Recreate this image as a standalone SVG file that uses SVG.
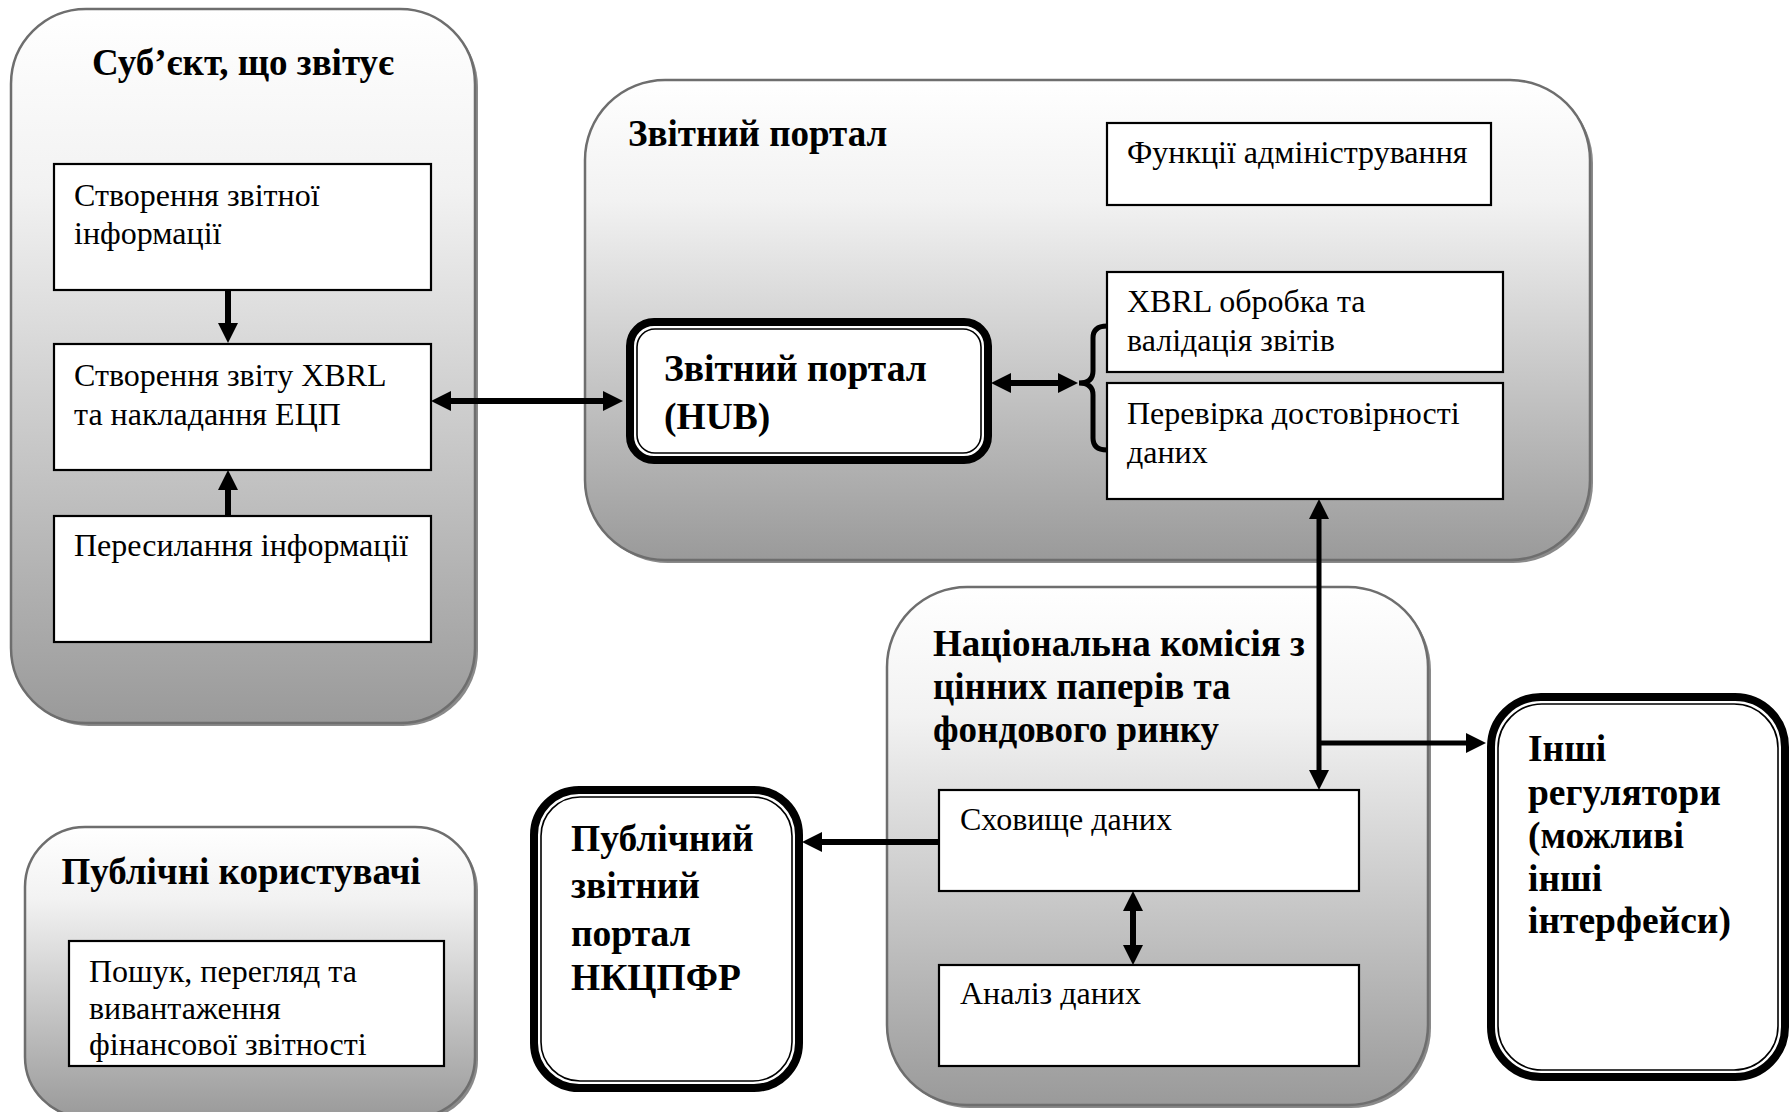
<svg xmlns="http://www.w3.org/2000/svg" width="1791" height="1112" viewBox="0 0 1791 1112">
<style>
.grp{stroke:#6e6e6e;stroke-width:2.5;fill:url(#g)}
.shd{fill:#8a8a8a}
.box{fill:#fff;stroke:#000;stroke-width:2.2}
.t{font-family:"Liberation Serif","Times New Roman",serif;font-size:32px;fill:#000}
.tb{font-family:"Liberation Serif","Times New Roman",serif;font-size:37px;font-weight:bold;fill:#000}
.tbb{font-family:"Liberation Serif","Times New Roman",serif;font-size:37.5px;font-weight:bold;fill:#000}
.dbo{fill:#fff;stroke:#000;stroke-width:8}
.dbi{fill:none;stroke:#000;stroke-width:1.6}
.c{stroke:#000;stroke-width:6;fill:none}
.c2{stroke:#000;stroke-width:5;fill:none}
</style>
<defs>
<linearGradient id="g" x1="0" y1="0" x2="0" y2="1">
<stop offset="0" stop-color="#ffffff"/>
<stop offset="0.25" stop-color="#f2f2f2"/>
<stop offset="1" stop-color="#9a9a9a"/>
</linearGradient>
<marker id="a" viewBox="0 0 20 20" refX="10" refY="10" markerWidth="20" markerHeight="20" markerUnits="userSpaceOnUse" orient="auto-start-reverse">
<path d="M0,0 L20,10 L0,20 z" fill="#000"/>
</marker>
</defs>
<rect width="1791" height="1112" fill="#fff"/>

<g id="subject">
<rect class="shd" x="14" y="12" width="464" height="714" rx="75"/>
<rect class="grp" x="11" y="9" width="464" height="714" rx="75"/>
<text class="tb" x="243" y="75" text-anchor="middle">Суб’єкт, що звітує</text>
</g>
<g id="create-info">
<rect class="box" x="54" y="164" width="377" height="126"/>
<text class="t" x="74" y="206">Створення звітної</text>
<text class="t" x="74" y="244">інформації</text>
</g>
<g id="create-xbrl">
<rect class="box" x="54" y="344" width="377" height="126"/>
<text class="t" x="74" y="386">Створення звіту XBRL</text>
<text class="t" x="74" y="425">та накладання ЕЦП</text>
</g>
<g id="send-info">
<rect class="box" x="54" y="516" width="377" height="126"/>
<text class="t" x="74" y="556">Пересилання інформації</text>
</g>

<g id="portal">
<rect class="shd" x="588" y="83" width="1005" height="480" rx="80"/>
<rect class="grp" x="585" y="80" width="1005" height="480" rx="80"/>
<text class="tb" x="628" y="146">Звітний портал</text>
</g>
<g id="admin">
<rect class="box" x="1107" y="123" width="384" height="82"/>
<text class="t" x="1127" y="163">Функції адміністрування</text>
</g>
<g id="hub">
<rect class="dbo" x="630" y="322" width="358" height="138" rx="24"/>
<rect class="dbi" x="637" y="329" width="344" height="124" rx="18"/>
<text class="tbb" x="664" y="381">Звітний портал</text>
<text class="tbb" x="664" y="429">(HUB)</text>
</g>
<g id="xbrl-proc">
<rect class="box" x="1107" y="272" width="396" height="100"/>
<text class="t" x="1127" y="312">XBRL обробка та</text>
<text class="t" x="1127" y="351">валідація звітів</text>
</g>
<g id="verify">
<rect class="box" x="1107" y="383" width="396" height="116"/>
<text class="t" x="1127" y="424">Перевірка достовірності</text>
<text class="t" x="1127" y="463">даних</text>
</g>

<g id="commission">
<rect class="shd" x="890" y="590" width="541" height="518" rx="80"/>
<rect class="grp" x="887" y="587" width="541" height="518" rx="80"/>
<text class="tb" x="933" y="656">Національна комісія з</text>
<text class="tb" x="933" y="699">цінних паперів та</text>
<text class="tb" x="933" y="742">фондового ринку</text>
</g>
<g id="storage">
<rect class="box" x="939" y="790" width="420" height="101"/>
<text class="t" x="960" y="830">Сховище даних</text>
</g>
<g id="analysis">
<rect class="box" x="939" y="965" width="420" height="101"/>
<text class="t" x="960" y="1004">Аналіз даних</text>
</g>

<g id="public-portal">
<rect class="dbo" x="534" y="790" width="265" height="298" rx="45"/>
<rect class="dbi" x="541" y="797" width="251" height="284" rx="39"/>
<text class="tbb" x="571" y="851">Публічний</text>
<text class="tbb" x="571" y="898">звітний</text>
<text class="tbb" x="571" y="946">портал</text>
<text class="tbb" x="571" y="990">НКЦПФР</text>
</g>

<g id="other-regulators">
<rect class="dbo" x="1491" y="697" width="294" height="380" rx="50"/>
<rect class="dbi" x="1498" y="704" width="280" height="366" rx="44"/>
<text class="tbb" x="1528" y="761">Інші</text>
<text class="tbb" x="1528" y="805">регулятори</text>
<text class="tbb" x="1528" y="848">(можливі</text>
<text class="tbb" x="1528" y="891">інші</text>
<text class="tbb" x="1528" y="933">інтерфейси)</text>
</g>

<g id="public-users">
<rect class="shd" x="28" y="830" width="450" height="290" rx="60"/>
<rect class="grp" x="25" y="827" width="450" height="290" rx="60"/>
<text class="tb" x="241" y="884" text-anchor="middle">Публічні користувачі</text>
</g>
<g id="search">
<rect class="box" x="69" y="941" width="375" height="125"/>
<text class="t" x="89" y="982">Пошук, перегляд та</text>
<text class="t" x="89" y="1019">вивантаження</text>
<text class="t" x="89" y="1055">фінансової звітності</text>
</g>

<g id="connectors">
<line class="c" x1="228" y1="290" x2="228" y2="333" marker-end="url(#a)"/>
<line class="c" x1="228" y1="516" x2="228" y2="480" marker-end="url(#a)"/>
<line class="c" x1="441" y1="401" x2="613" y2="401" marker-start="url(#a)" marker-end="url(#a)"/>
<line class="c" x1="1001" y1="383" x2="1068" y2="383" marker-start="url(#a)" marker-end="url(#a)"/>
<path class="c2" d="M1107,326 Q1093,326 1093,338 L1093,371 Q1093,383 1079,383 Q1093,383 1093,395 L1093,438 Q1093,450 1107,450"/>
<line class="c2" x1="1319" y1="509" x2="1319" y2="780" marker-start="url(#a)" marker-end="url(#a)"/>
<line class="c2" x1="1319" y1="743" x2="1476" y2="743" marker-end="url(#a)"/>
<line class="c" x1="939" y1="842" x2="812" y2="842" marker-end="url(#a)"/>
<line class="c" x1="1133" y1="901" x2="1133" y2="955" marker-start="url(#a)" marker-end="url(#a)"/>
</g>
</svg>
